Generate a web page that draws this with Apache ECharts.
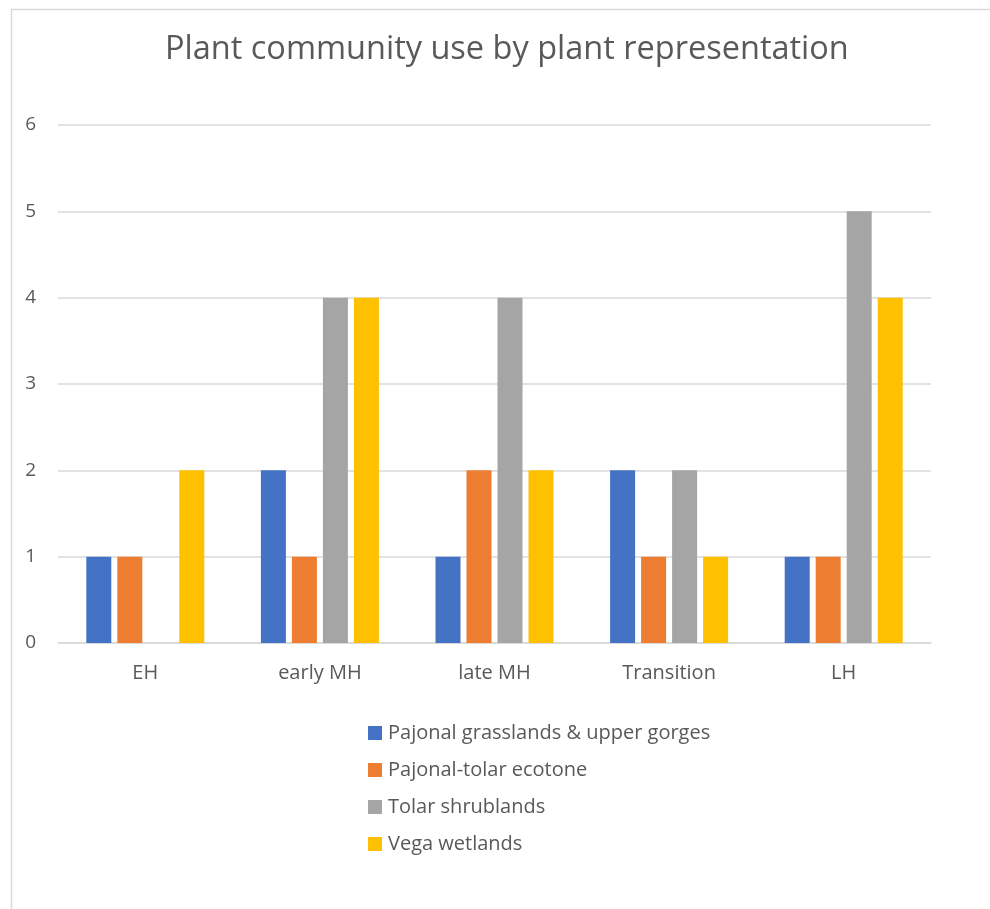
<!DOCTYPE html>
<html lang="en">
<head>
    <meta charset="UTF-8">
    <title>Plant community use</title>
    <script src="https://cdn.jsdelivr.net/npm/echarts@6/dist/echarts.min.js"></script>
    <style>
        html, body { margin: 0; padding: 0; background: #fff; }
    </style>
</head>
<body>
    <div style="width: 990px; height: 909px" id="main"></div>
    <script type="text/javascript">
        // data
        var periods = ['EH', 'early MH', 'late MH', 'Transition', 'LH'];
        var seriesNames = ['Pajonal grasslands & upper gorges', 'Pajonal-tolar ecotone', 'Tolar shrublands', 'Vega wetlands'];
        var pajonal = [1, 2, 1, 2, 1];
        var ecotone = [1, 1, 2, 1, 1];
        var tolar = [null, 4, 4, 2, 5];
        var vega = [2, 4, 2, 1, 4];
        var yTicks = [0, 1, 2, 3, 4, 5, 6];

        var colors = ['#4472C4', '#ED7D31', '#A5A5A5', '#FFC000'];
        var allValues = [pajonal, ecotone, tolar, vega];
        var font = 'Open Sans';

        var myChart = echarts.init(document.getElementById('main'));

        var series = seriesNames.map(function (name, i) {
            return {
                name: name,
                type: 'bar',
                barWidth: 25,
                barGap: '24%',
                itemStyle: { color: colors[i] },
                data: allValues[i]
            };
        });

        var option = {
            animation: false,
            backgroundColor: '#fff',
            color: colors,
            title: {
                text: 'Plant community use by plant representation',
                left: 160,
                top: 28,
                textStyle: {
                    fontFamily: font,
                    fontWeight: 'normal',
                    fontSize: 32.5,
                    color: '#595959'
                }
            },
            graphic: [{
                type: 'rect',
                left: 9,
                top: 7,
                shape: { width: 1100, height: 1100 },
                style: { fill: 'none', stroke: '#D9D9D9', lineWidth: 1.5 },
                silent: true
            }],
            legend: {
                orient: 'vertical',
                left: 363,
                top: 718,
                itemWidth: 14,
                itemHeight: 14,
                itemGap: 17,
                icon: 'rect',
                data: seriesNames,
                textStyle: {
                    fontFamily: font,
                    fontSize: 20,
                    color: '#595959',
                    padding: [0, 0, 0, 1]
                }
            },
            grid: {
                left: 58,
                right: 59,
                top: 125,
                bottom: 266,
                containLabel: false
            },
            xAxis: {
                type: 'category',
                data: periods,
                axisLine: { lineStyle: { color: '#D9D9D9', width: 1.5 } },
                axisTick: { show: false },
                axisLabel: {
                    margin: 20,
                    fontFamily: font,
                    fontSize: 20,
                    color: '#595959'
                }
            },
            yAxis: {
                type: 'value',
                min: yTicks[0],
                max: yTicks[yTicks.length - 1],
                interval: 1,
                axisLine: { show: false },
                axisTick: { show: false },
                splitLine: { lineStyle: { color: '#D9D9D9', width: 1.5 } },
                axisLabel: {
                    margin: 22,
                    fontFamily: font,
                    fontSize: 19,
                    color: '#595959'
                }
            },
            series: series
        };

        myChart.setOption(option);
    </script>
</body>
</html>
